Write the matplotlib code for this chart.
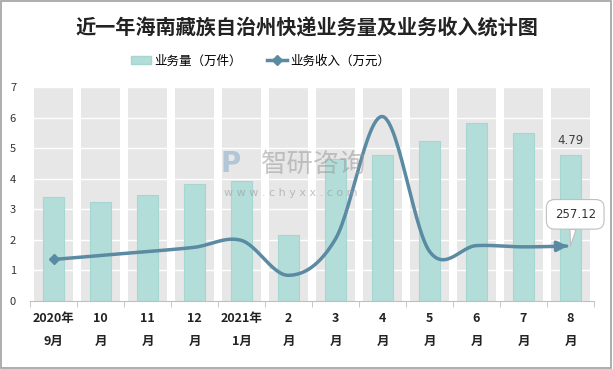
import numpy as np
import matplotlib.pyplot as plt
from matplotlib.patches import Patch, Rectangle
from matplotlib.lines import Line2D

plt.rcParams['font.family'] = ['Noto Sans CJK SC', 'DejaVu Sans']

# data
months = ['2020年\n9月', '10\n月', '11\n月', '12\n月', '2021年\n1月', '2\n月',
          '3\n月', '4\n月', '5\n月', '6\n月', '7\n月', '8\n月']
volume = [3.39, 3.25, 3.47, 3.84, 3.91, 2.15, 4.63, 4.78, 5.24, 5.81, 5.48, 4.79]
revenue = [194, 213, 231, 251, 283, 120, 290, 862, 232, 259, 253, 257.12]

bar_color = '#B2DDD9'
line_color = '#5A8BA2'


def smooth_curve(xs, ys, n=30):
    # Excel-like smoothed line (cubic bezier through the points)
    xs = np.asarray(xs, float)
    ys = np.asarray(ys, float)
    px = np.concatenate([[xs[0]], xs, [xs[-1]]])
    py = np.concatenate([[ys[0]], ys, [ys[-1]]])
    out_x, out_y = [], []
    t = np.linspace(0, 1, n)
    for i in range(1, len(px) - 2):
        p0 = np.array([px[i], py[i]])
        p3 = np.array([px[i + 1], py[i + 1]])
        c1 = p0 + (p3 - np.array([px[i - 1], py[i - 1]])) / 6
        c2 = p3 - (np.array([px[i + 2], py[i + 2]]) - p0) / 6
        b = ((1 - t) ** 3)[:, None] * p0 + (3 * (1 - t) ** 2 * t)[:, None] * c1 \
            + (3 * (1 - t) * t ** 2)[:, None] * c2 + (t ** 3)[:, None] * p3
        out_x.extend(b[:, 0])
        out_y.extend(b[:, 1])
    return np.array(out_x), np.array(out_y)


fig = plt.figure(figsize=(6.13, 3.69), dpi=100)
fig.patches.append(Rectangle((0.002, 0.003), 0.995, 0.994, transform=fig.transFigure,
                             fill=False, ec='#A0A0A0', lw=1.2))
ax = fig.add_axes([30 / 613, 68 / 369, 564 / 613, 214 / 369])

x = np.arange(len(months))
ax.bar(x, [7] * len(x), width=0.84, color='#E7E7E7', zorder=0)
for yv in range(1, 8):
    ax.axhline(yv, color='white', lw=1, zorder=1)
ax.bar(x, volume, width=0.43, color=bar_color, edgecolor='#A6D6D1', lw=0.8, zorder=2)
ax.text(x[-1], volume[-1] + 0.25, f'{volume[-1]:.2f}', ha='center', va='bottom',
        fontsize=8.5, color='#404040', family='DejaVu Sans')

ax.set_xlim(-0.5, len(x) - 0.5)
ax.set_ylim(0, 7)
ax.set_yticks(range(0, 8))
ax.set_yticklabels([str(v) for v in range(0, 8)], fontsize=8, color='#333333')
ax.set_xticks(x)
ax.set_xticklabels(months, fontsize=9, fontweight='bold', color='#222222', linespacing=2.0)
ax.set_xticks(np.arange(-0.5, len(x), 1), minor=True)
ax.tick_params(axis='x', which='major', length=0, pad=8)
ax.tick_params(axis='x', which='minor', length=4, color='#BFBFBF')
ax.tick_params(axis='y', length=0, pad=10)
for side in ['top', 'right', 'left']:
    ax.spines[side].set_visible(False)
ax.spines['bottom'].set_color('#BFBFBF')

ax2 = ax.twinx()
ax2.set_ylim(0, 1000)
ax2.axis('off')
sx, sy = smooth_curve(x, revenue)
ax2.plot(sx[:-6], sy[:-6], color=line_color, lw=2.5, zorder=5, solid_capstyle='round')
ax2.annotate('', xy=(sx[-1], sy[-1]), xytext=(sx[-7], sy[-7]),
             arrowprops=dict(arrowstyle='-|>,head_length=0.6,head_width=0.3',
                             color=line_color, lw=2.5))
ax2.plot(x[0], revenue[0], marker='D', ms=5, color=line_color, zorder=6)
ax2.annotate(f'{revenue[-1]:.2f}', xy=(x[-1], revenue[-1]), xytext=(x[-1] + 0.1, 405),
             ha='center', va='center', fontsize=8.5, color='#333333', family='DejaVu Sans',
             bbox=dict(boxstyle='round,pad=0.7', fc='white', ec='#BFBFBF', lw=0.8),
             arrowprops=dict(arrowstyle='wedge,tail_width=0.5', fc='white', ec='#BFBFBF',
                             lw=0.8, shrinkA=0, shrinkB=0), zorder=7)

# watermark
fig.text(0.425, 0.555, '智研咨询', fontsize=19, color='#9A9A9A', alpha=0.55, va='center')
fig.text(0.36, 0.555, 'P', fontsize=20, color='#7FA7C8', alpha=0.5, fontweight='bold',
         va='center', family='DejaVu Sans')
fig.text(0.365, 0.47, 'w w w . c h y x x . c o m', fontsize=8, color='#9A9A9A',
         alpha=0.6, family='DejaVu Sans')

fig.text(0.5, 0.925, '近一年海南藏族自治州快递业务量及业务收入统计图', ha='center', va='center',
         fontsize=14.5, fontweight='bold', color='#222222')
handles = [Patch(fc=bar_color, ec='#A6D6D1'),
           Line2D([0], [0], color=line_color, lw=2.5, marker='D', ms=5)]
fig.legend(handles, ['业务量（万件）', '业务收入（万元）'], loc='center',
           bbox_to_anchor=(0.425, 0.835), ncol=2, frameon=False, fontsize=9,
           handlelength=1.6, columnspacing=2.0, handletextpad=0.3)

fig.savefig('out.png', dpi=100)
